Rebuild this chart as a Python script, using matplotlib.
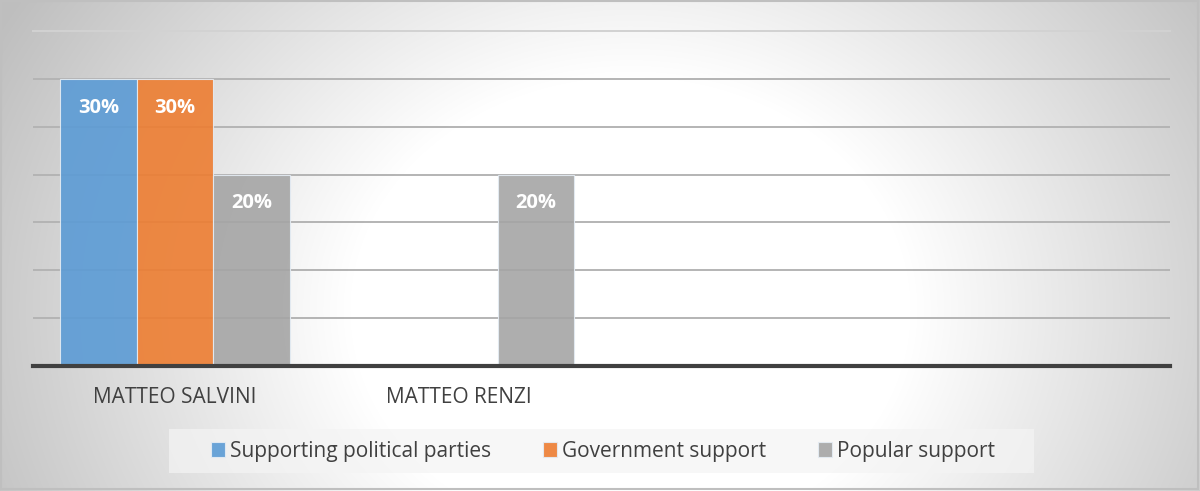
import numpy as np
import matplotlib
matplotlib.use("Agg")
import matplotlib.pyplot as plt
from matplotlib.patches import Rectangle

categories = ["MATTEO SALVINI", "MATTEO RENZI", "", ""]
series_names = ["Supporting political parties", "Government support", "Popular support"]
supporting = [30, 0, 0, 0]
government = [30, 0, 0, 0]
popular = [20, 20, 0, 0]
colors = ["#5B9BD5", "#ED7D31", "#A5A5A5"]

plt.rcParams['font.family'] = ['Open Sans', 'DejaVu Sans']

W, H = 1200, 491
fig = plt.figure(figsize=(W / 100, H / 100), dpi=100)

# radial gradient background
bg = fig.add_axes([0, 0, 1, 1], zorder=-10)
yy, xx = np.mgrid[0:H, 0:W]
cx, cy = 630, 310
d = np.sqrt((xx - cx) ** 2 + ((yy - cy) * 1.2) ** 2)
v = 255 - 0.148 * np.clip(d - 280, 0, None)
v = np.clip(v, 190, 255) / 255.0
img = np.dstack([v, v, v])
bg.imshow(img, extent=[0, W, H, 0], aspect='auto', interpolation='bilinear')
bg.set_xlim(0, W)
bg.set_ylim(H, 0)
bg.axis('off')
bg.add_patch(Rectangle((1, 1), W - 3, H - 3, fill=False, edgecolor='#BFBFBF', lw=1.5))
# legend box
bg.add_patch(Rectangle((169, 429), 865, 44, facecolor='#F4F4F4', alpha=0.7, edgecolor='none'))

left, right = 33, 1170
top_px, base_px = 31, 366
ax = fig.add_axes([left / W, (H - base_px) / H, (right - left) / W, (base_px - top_px) / H])
ax.patch.set_alpha(0)

n = len(categories)
x = np.arange(n)
bw = 0.27
series = [supporting, government, popular]
for i, (vals, col, name) in enumerate(zip(series, colors, series_names)):
    pos = x + (i - 1) * bw
    bars = ax.bar(pos, vals, width=bw, color=col, alpha=0.9, edgecolor='#E4ECF4', linewidth=0.8,
                  label=name, zorder=3)
    for b, val in zip(bars, vals):
        if val > 0:
            ax.text(b.get_x() + b.get_width() / 2, val - 3.0, f"{val}%", ha='center', va='center',
                    color='white', fontsize=14.5, fontweight='bold', zorder=4)

ax.set_xlim(-0.5, n - 0.5)
ax.set_ylim(0, 35)
for yv in range(5, 31, 5):
    ax.axhline(yv, color='#B4B4B4', lw=1.4, zorder=1)
ax.axhline(35, color='#D2D2D2', lw=1.4, zorder=1, clip_on=False)
ax.set_yticks([])
ax.set_xticks(x)
ax.set_xticklabels(categories, fontsize=15, color='#404040')
ax.tick_params(axis='x', length=0, pad=15)
for s in ['top', 'right', 'left']:
    ax.spines[s].set_visible(False)
ax.spines['bottom'].set_color('#404040')
ax.spines['bottom'].set_linewidth(3)
ax.spines['bottom'].set_zorder(5)

leg = fig.legend(loc='center', bbox_to_anchor=(603 / W, (H - 451) / H), ncol=3,
                 frameon=False, fontsize=15, handlelength=0.7, handleheight=0.7,
                 handletextpad=0.25, columnspacing=2.45)
for t in leg.get_texts():
    t.set_color('#404040')

fig.savefig("out.png", dpi=100)
